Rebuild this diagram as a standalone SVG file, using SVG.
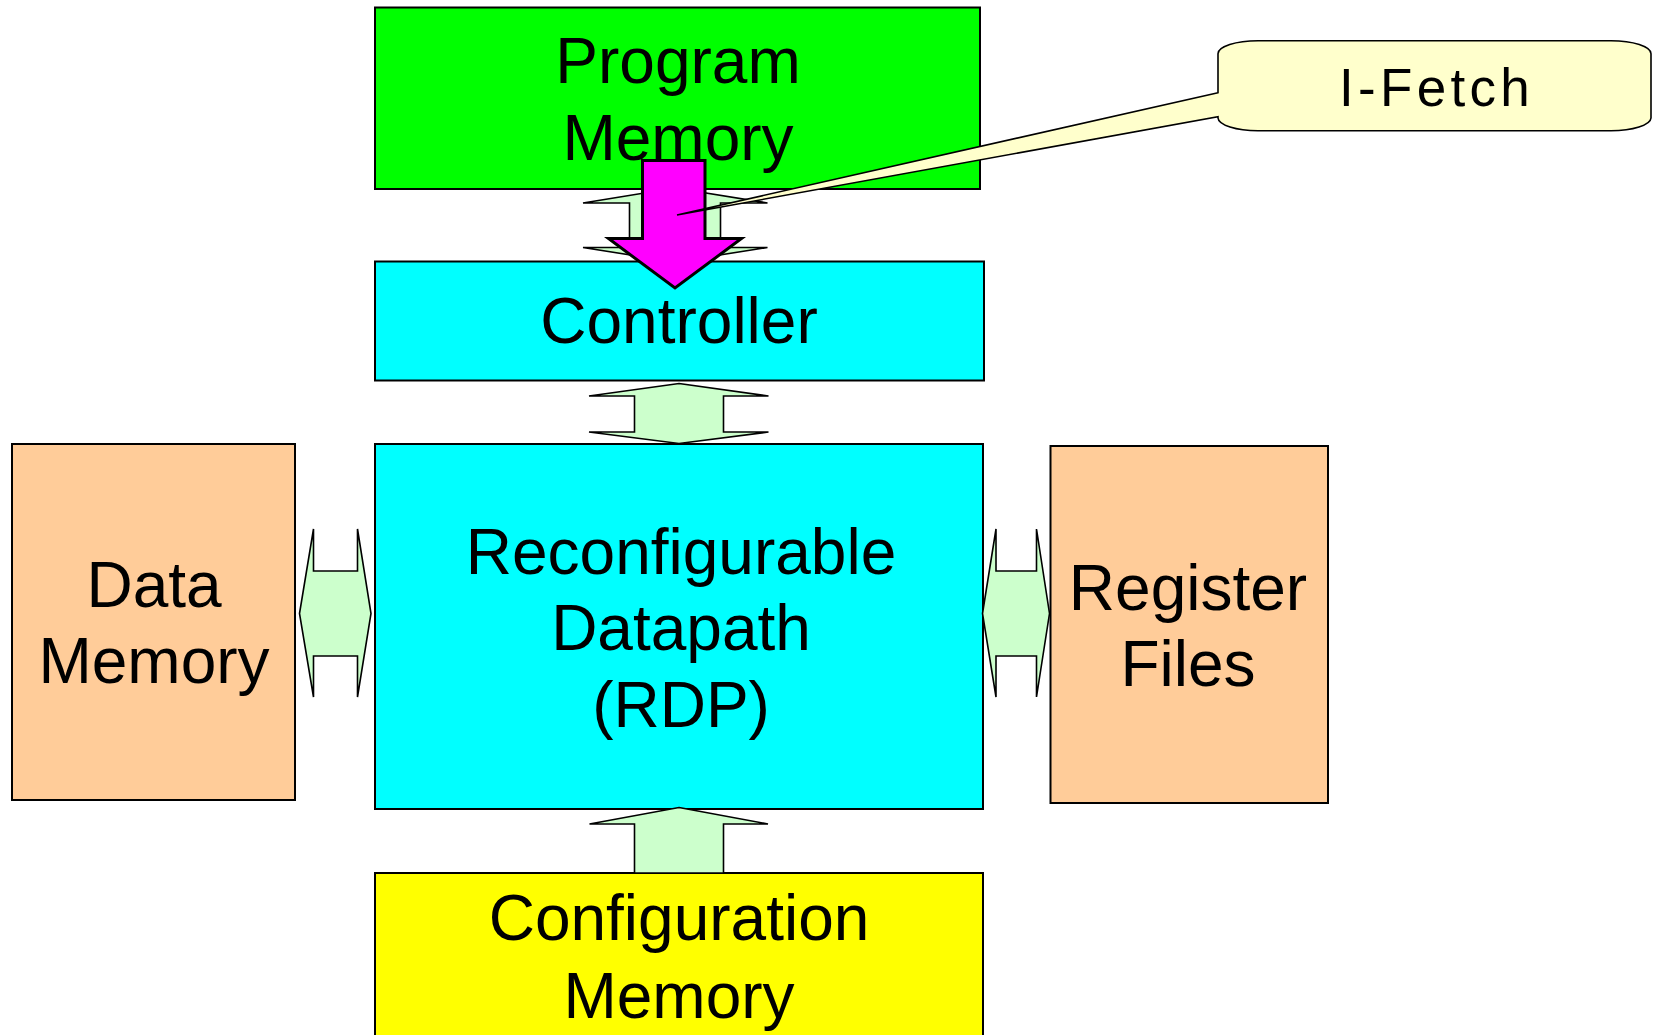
<svg xmlns="http://www.w3.org/2000/svg" width="1654" height="1035" viewBox="0 0 1654 1035">
<style>
.box{stroke:#000;stroke-width:2}
.lbl{font-family:"Liberation Sans",Arial,sans-serif;font-size:64px;fill:#000;text-anchor:middle}
.bus{fill:#CCFFCC;stroke:#000;stroke-width:1.6;stroke-linejoin:miter}
</style>
<rect width="1654" height="1035" fill="#fff"/>
<g id="program-memory">
<rect class="box" x="375" y="7.5" width="605" height="181.5" fill="#00FF00"/>
<text class="lbl" x="678" y="83">Program</text>
<text class="lbl" x="678" y="160">Memory</text>
</g>
<g id="controller">
<rect class="box" x="375" y="261.5" width="609" height="119" fill="#00FFFF"/>
<text class="lbl" x="679" y="343">Controller</text>
</g>
<g id="rdp">
<rect class="box" x="375" y="444" width="608" height="365" fill="#00FFFF"/>
<text class="lbl" x="681" y="574">Reconfigurable</text>
<text class="lbl" x="681" y="650">Datapath</text>
<text class="lbl" x="681" y="726.5">(RDP)</text>
</g>
<g id="data-memory">
<rect class="box" x="12" y="444" width="283" height="356" fill="#FFCC99"/>
<text class="lbl" x="154" y="606.5">Data</text>
<text class="lbl" x="154" y="683">Memory</text>
</g>
<g id="register-files">
<rect class="box" x="1050.5" y="446" width="277.5" height="357" fill="#FFCC99"/>
<text class="lbl" x="1188" y="610">Register</text>
<text class="lbl" x="1188" y="686">Files</text>
</g>
<g id="configuration-memory">
<rect class="box" x="375" y="873" width="608" height="170" fill="#FFFF00"/>
<text class="lbl" x="679" y="940">Configuration</text>
<text class="lbl" x="679" y="1017.5">Memory</text>
</g>
<g id="connectors">
<polygon class="bus" points="675,188 767.5,203 720.5,203 720.5,247.5 767.5,247.5 675,262 583,247.5 629.5,247.5 629.5,203 583,203"/>
<polygon class="bus" points="679,383.5 768.5,396 723.5,396 723.5,432 768.5,432 679,443.5 589,432 634.5,432 634.5,396 589,396"/>
<polygon class="bus" points="679,807.5 768,824 723.5,824 723.5,873 634.5,873 634.5,824 589.5,824"/>
<polygon class="bus" points="299.5,613.5 313.5,529 313.5,571 357.5,571 357.5,529 371,613.5 357.5,697 357.5,656 313.5,656 313.5,697"/>
<polygon class="bus" points="982.5,613.5 996,529 996,571 1036.5,571 1036.5,529 1049.5,613.5 1036.5,697 1036.5,656 996,656 996,697"/>
<polygon id="i-fetch-arrow" points="642.5,160.5 705,160.5 705,238.5 741.5,238.5 675,288 608.5,238.5 642.5,238.5" fill="#FF00FF" stroke="#000" stroke-width="3" stroke-linejoin="miter"/>
</g>
<g id="i-fetch-callout">
<path d="M1218,92.7 L677,215 L1218,116.7 L1218,118 A40,13 0 0 0 1258,130.7 L1611,130.7 A40,13 0 0 0 1651,118 L1651,53.7 A40,13 0 0 0 1611,40.7 L1258,40.7 A40,13 0 0 0 1218,53.7 Z" fill="#FFFFCC" stroke="#000" stroke-width="1.6" stroke-linejoin="miter"/>
<text x="1339" y="106" font-family="'Liberation Sans',Arial,sans-serif" font-size="53" letter-spacing="4.3" fill="#000">I-Fetch</text>
</g>
</svg>
